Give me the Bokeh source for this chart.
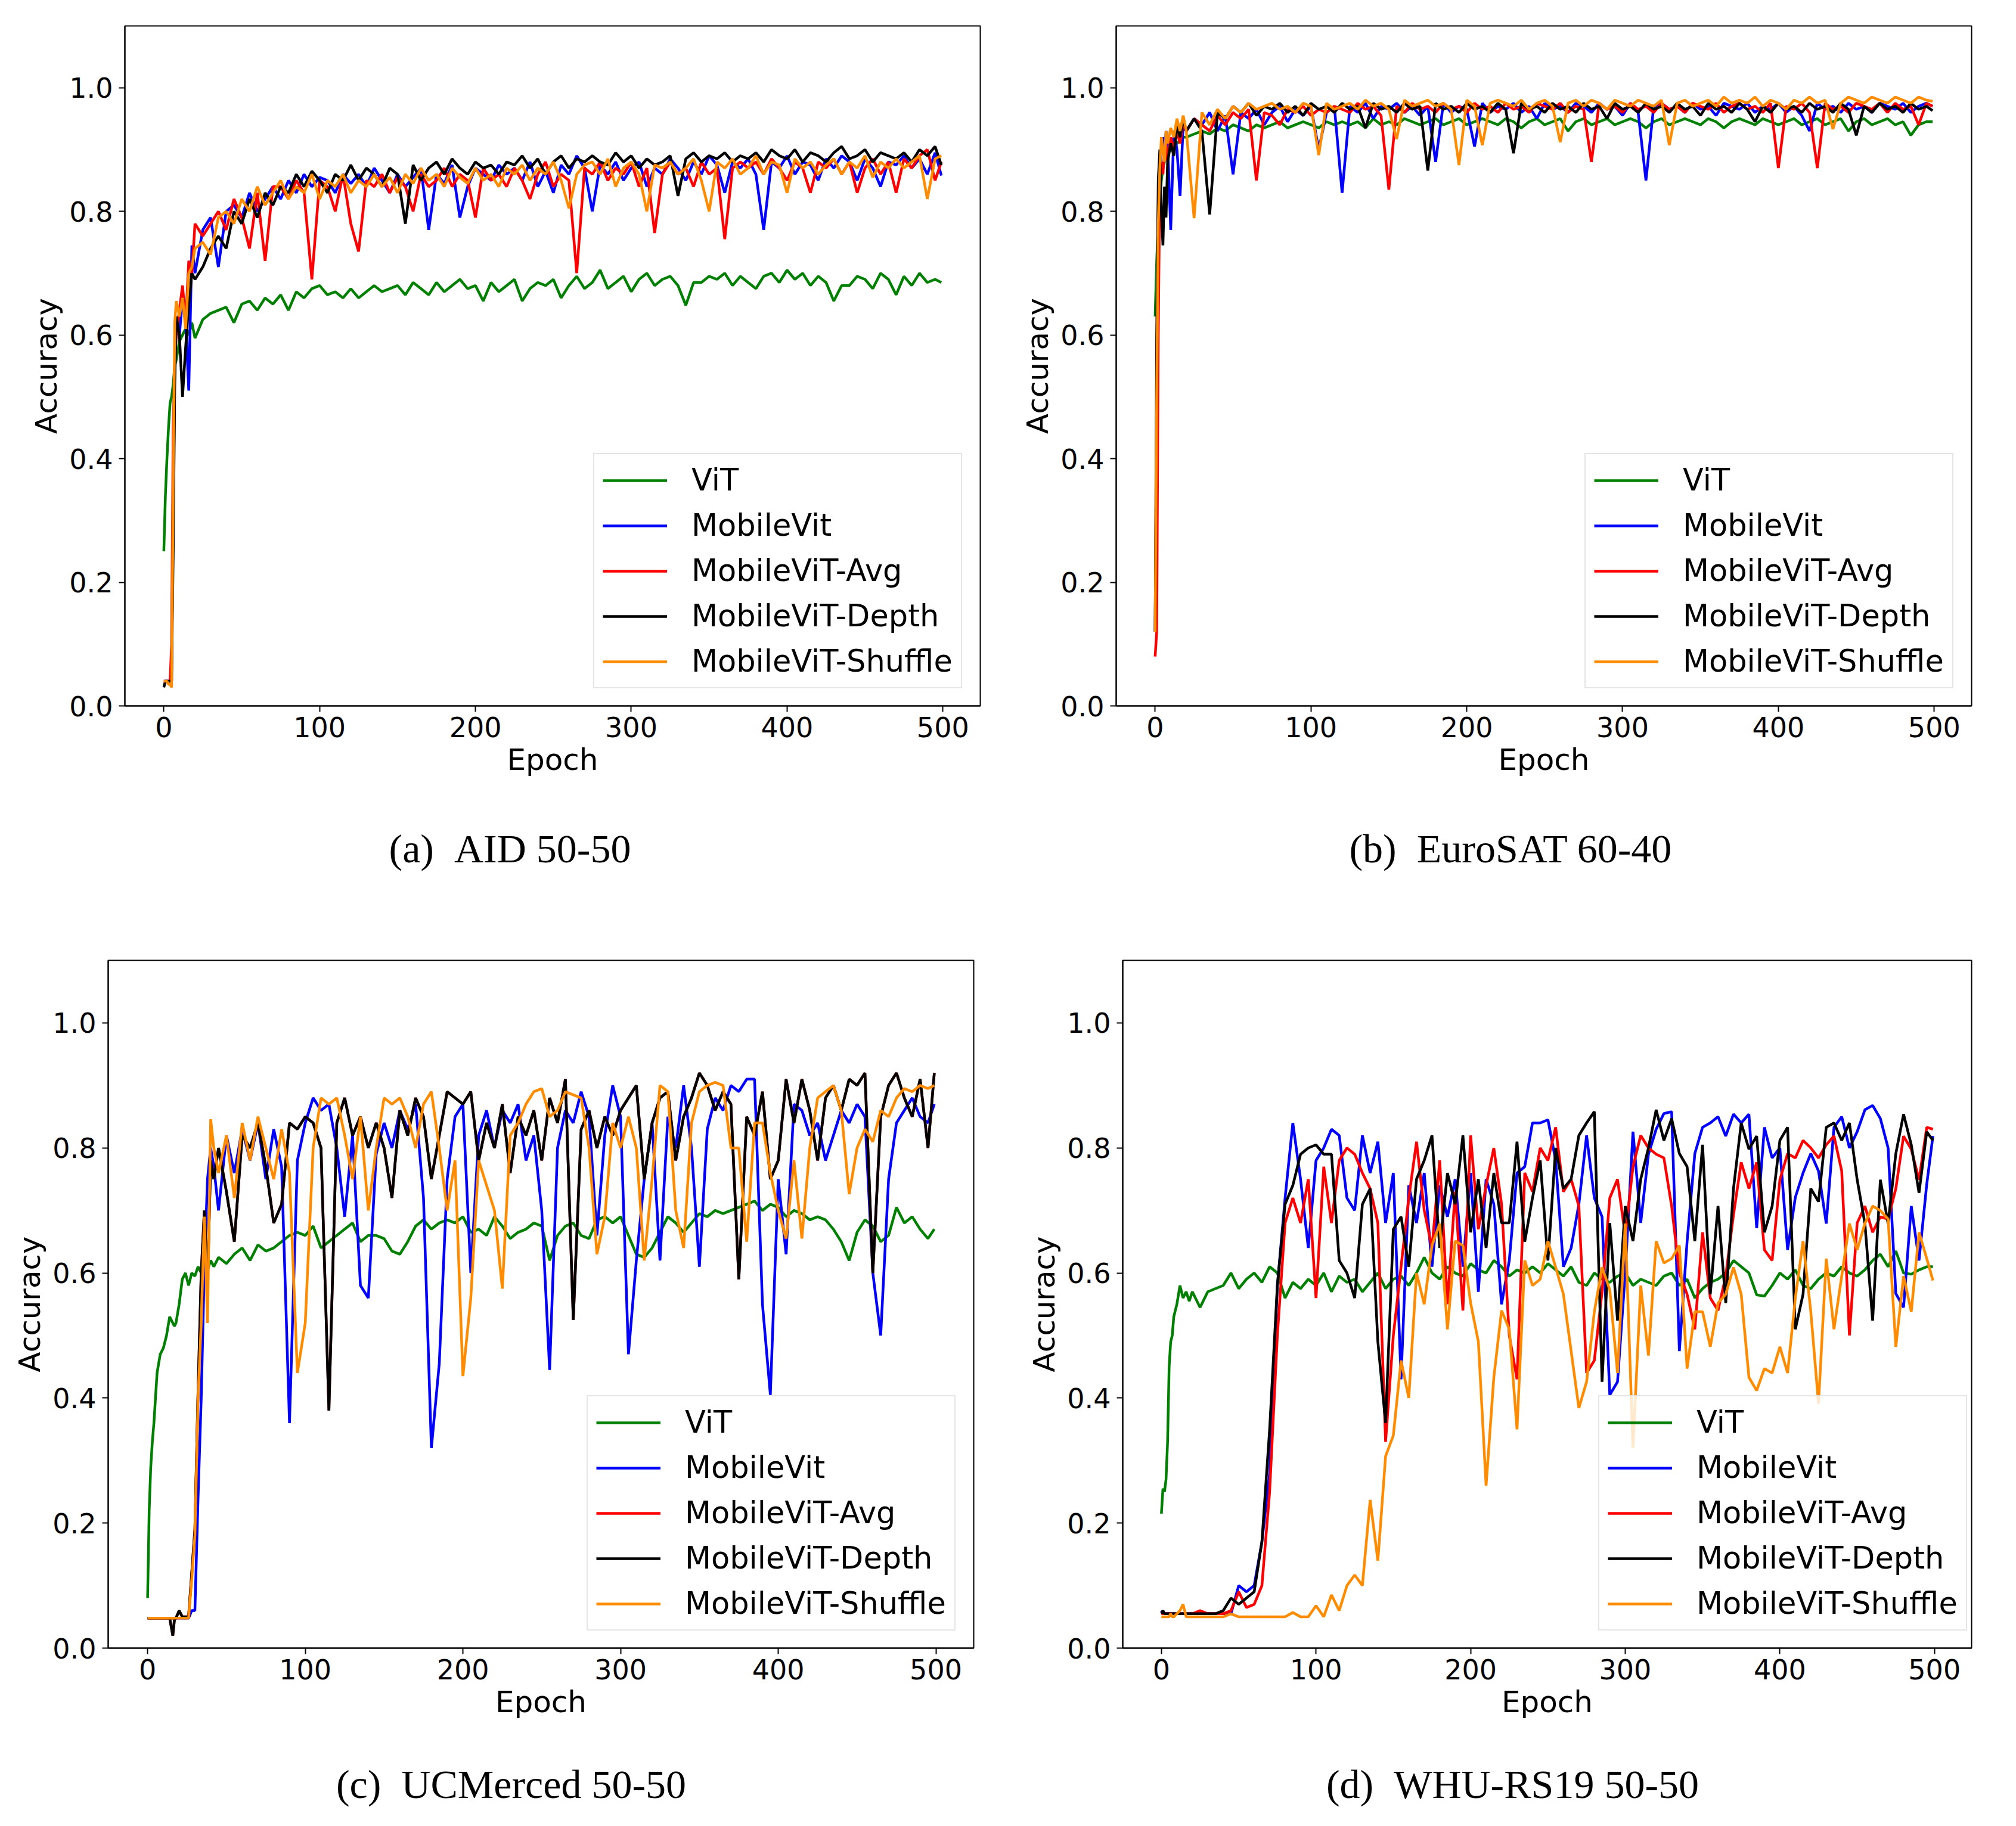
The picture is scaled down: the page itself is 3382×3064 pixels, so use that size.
from bokeh.plotting import figure
from bokeh.layouts import column, row
from bokeh.models import Range1d, PrintfTickFormatter, Legend, LegendItem, Label
from bokeh.embed import file_html
from bokeh.resources import INLINE

series_names = ["ViT", "MobileVit", "MobileViT-Avg", "MobileViT-Depth", "MobileViT-Shuffle"]
series_colors = ["#008000", "#0000ff", "#ff0000", "#000000", "#ff8c00"]
x_ticks = [0, 100, 200, 300, 400, 500]
y_ticks = [0.0, 0.2, 0.4, 0.6, 0.8, 1.0]
captions = ["(a)\u00a0\u00a0AID 50-50", "(b)\u00a0\u00a0EuroSAT 60-40",
            "(c)\u00a0\u00a0UCMerced 50-50", "(d)\u00a0\u00a0WHU-RS19 50-50"]

# epochs sampled (panels a, b, d)
epochs_abd = [0, 1, 2, 3, 4, 5, 6, 7, 8, 10, 12, 14, 16, 18, 20] + list(range(25, 500, 5)) + [499]
# epochs sampled (panel c)
epochs_c = [0, 1, 2, 3, 4, 6, 8, 10, 12, 14, 16, 17, 18, 20, 22, 24, 26, 28, 30, 32, 34, 36, 38, 40, 42] \
    + list(range(45, 500, 5)) + [499]

# ---------------- (a) AID 50-50 ----------------
vit_a = [0.25, 0.34, 0.40, 0.45, 0.49, 0.50, 0.52, 0.55, 0.56, 0.59, 0.60, 0.61, 0.60, 0.62, 0.595,
         0.625, 0.635, 0.64, 0.645, 0.62, 0.65, 0.655, 0.64, 0.66, 0.65,
         0.665, 0.64, 0.67, 0.66, 0.675, 0.68, 0.665, 0.67, 0.66, 0.675,
         0.66, 0.67, 0.68, 0.67, 0.675, 0.68, 0.665, 0.685, 0.675, 0.665,
         0.685, 0.67, 0.68, 0.69, 0.675, 0.68, 0.655, 0.685, 0.67, 0.68,
         0.69, 0.655, 0.675, 0.685, 0.68, 0.69, 0.66, 0.68, 0.695, 0.675,
         0.685, 0.705, 0.675, 0.685, 0.695, 0.67, 0.69, 0.70, 0.68, 0.69,
         0.695, 0.68, 0.648, 0.685, 0.685, 0.695, 0.69, 0.70, 0.68, 0.695,
         0.685, 0.675, 0.695, 0.70, 0.685, 0.705, 0.69, 0.70, 0.68, 0.695,
         0.685, 0.655, 0.68, 0.68, 0.695, 0.69, 0.675, 0.70, 0.69, 0.665,
         0.695, 0.68, 0.70, 0.685, 0.69, 0.685]
mvit_a = [0.04, 0.04, 0.04, 0.04, 0.04, 0.06, 0.30, 0.55, 0.62, 0.60, 0.66, 0.62, 0.51, 0.745, 0.70,
          0.77, 0.79, 0.71, 0.80, 0.81, 0.79, 0.83, 0.80, 0.82, 0.84,
          0.82, 0.85, 0.83, 0.86, 0.84, 0.855, 0.85, 0.83, 0.86, 0.845,
          0.86, 0.84, 0.87, 0.85, 0.83, 0.86, 0.84, 0.855, 0.87, 0.77,
          0.86, 0.845, 0.875, 0.79, 0.84, 0.87, 0.86, 0.85, 0.875, 0.86,
          0.87, 0.85, 0.88, 0.84, 0.865, 0.83, 0.875, 0.86, 0.89, 0.87,
          0.80, 0.875, 0.86, 0.88, 0.85, 0.87, 0.88, 0.84, 0.87, 0.86,
          0.885, 0.87, 0.85, 0.88, 0.86, 0.89, 0.875, 0.83, 0.88, 0.87,
          0.885, 0.86, 0.77, 0.88, 0.87, 0.89, 0.86, 0.88, 0.875, 0.85,
          0.885, 0.87, 0.89, 0.88, 0.85, 0.885, 0.87, 0.84, 0.88, 0.875,
          0.89, 0.87, 0.885, 0.86, 0.895, 0.858]
avg_a = [0.04, 0.04, 0.04, 0.04, 0.04, 0.10, 0.45, 0.55, 0.60, 0.64, 0.68, 0.62, 0.72, 0.70, 0.78,
         0.76, 0.78, 0.80, 0.77, 0.82, 0.79, 0.74, 0.83, 0.72, 0.84,
         0.84, 0.82, 0.85, 0.83, 0.69, 0.85, 0.84, 0.80, 0.86, 0.78,
         0.735, 0.85, 0.84, 0.86, 0.83, 0.855, 0.84, 0.80, 0.86, 0.84,
         0.85, 0.87, 0.84, 0.86, 0.85, 0.79, 0.87, 0.85, 0.86, 0.84,
         0.87, 0.85, 0.82, 0.86, 0.88, 0.84, 0.86, 0.85, 0.70, 0.87,
         0.86, 0.88, 0.85, 0.87, 0.86, 0.88, 0.84, 0.87, 0.765, 0.86,
         0.88, 0.86, 0.87, 0.84, 0.88, 0.86, 0.87, 0.755, 0.87, 0.88,
         0.87, 0.88, 0.86, 0.885, 0.87, 0.85, 0.88, 0.87, 0.83, 0.88,
         0.87, 0.885, 0.86, 0.88, 0.83, 0.87, 0.885, 0.86, 0.88, 0.83,
         0.885, 0.87, 0.89, 0.90, 0.85, 0.88]
depth_a = [0.03, 0.04, 0.04, 0.04, 0.04, 0.04, 0.25, 0.52, 0.63, 0.60, 0.50, 0.58, 0.65, 0.70, 0.69,
           0.71, 0.74, 0.76, 0.74, 0.80, 0.78, 0.82, 0.79, 0.83, 0.81,
           0.84, 0.83, 0.86, 0.84, 0.865, 0.85, 0.83, 0.86, 0.85, 0.875,
           0.85, 0.87, 0.86, 0.84, 0.87, 0.86, 0.78, 0.875, 0.85, 0.87,
           0.88, 0.86, 0.885, 0.87, 0.86, 0.88, 0.87, 0.875, 0.86, 0.88,
           0.875, 0.89, 0.87, 0.885, 0.86, 0.88, 0.89, 0.87, 0.885, 0.88,
           0.89, 0.88, 0.875, 0.895, 0.88, 0.89, 0.87, 0.885, 0.875, 0.88,
           0.89, 0.825, 0.885, 0.895, 0.88, 0.89, 0.885, 0.895, 0.88, 0.89,
           0.885, 0.895, 0.88, 0.90, 0.89, 0.885, 0.90, 0.88, 0.895, 0.89,
           0.88, 0.895, 0.905, 0.885, 0.89, 0.90, 0.88, 0.895, 0.89, 0.885,
           0.895, 0.88, 0.90, 0.89, 0.905, 0.875]
shuffle_a = [0.04, 0.04, 0.04, 0.035, 0.035, 0.03, 0.35, 0.62, 0.655, 0.63, 0.66, 0.61, 0.70, 0.71, 0.74,
             0.75, 0.73, 0.79, 0.80, 0.78, 0.82, 0.80, 0.84, 0.81, 0.83,
             0.85, 0.82, 0.84, 0.83, 0.86, 0.82, 0.85, 0.84, 0.86, 0.83,
             0.85, 0.84, 0.86, 0.84, 0.855, 0.83, 0.86, 0.845, 0.87, 0.85,
             0.86, 0.84, 0.87, 0.855, 0.845, 0.87, 0.85, 0.86, 0.84, 0.87,
             0.86, 0.875, 0.85, 0.87, 0.86, 0.88, 0.85, 0.805, 0.86, 0.875,
             0.88, 0.86, 0.885, 0.84, 0.87, 0.88, 0.86, 0.80, 0.875, 0.87,
             0.88, 0.86, 0.87, 0.885, 0.85, 0.80, 0.88, 0.87, 0.885, 0.86,
             0.87, 0.89, 0.86, 0.88, 0.875, 0.83, 0.885, 0.87, 0.88, 0.86,
             0.875, 0.885, 0.86, 0.88, 0.87, 0.89, 0.855, 0.88, 0.87, 0.885,
             0.87, 0.88, 0.89, 0.82, 0.885, 0.89]

# ---------------- (b) EuroSAT 60-40 ----------------
vit_b = [0.63, 0.72, 0.78, 0.82, 0.85, 0.87, 0.88, 0.89, 0.895, 0.90, 0.905, 0.91, 0.915, 0.92, 0.92,
         0.925, 0.93, 0.925, 0.935, 0.93, 0.94, 0.935, 0.93, 0.94, 0.935,
         0.94, 0.945, 0.935, 0.94, 0.945, 0.94, 0.935, 0.945, 0.94, 0.945,
         0.94, 0.945, 0.935, 0.95, 0.94, 0.945, 0.94, 0.95, 0.945, 0.94,
         0.945, 0.95, 0.94, 0.945, 0.95, 0.94, 0.945, 0.95, 0.945, 0.94,
         0.95, 0.945, 0.935, 0.945, 0.95, 0.94, 0.945, 0.95, 0.93, 0.945,
         0.95, 0.94, 0.945, 0.95, 0.94, 0.945, 0.95, 0.945, 0.935, 0.945,
         0.95, 0.94, 0.945, 0.95, 0.945, 0.94, 0.95, 0.945, 0.935, 0.945,
         0.95, 0.945, 0.94, 0.95, 0.945, 0.94, 0.945, 0.95, 0.94, 0.945,
         0.95, 0.94, 0.945, 0.95, 0.93, 0.945, 0.95, 0.94, 0.945, 0.95,
         0.94, 0.945, 0.923, 0.94, 0.945, 0.945]
mvit_b = [0.12, 0.45, 0.80, 0.88, 0.90, 0.92, 0.88, 0.93, 0.91, 0.77, 0.93, 0.90, 0.825, 0.94, 0.93,
          0.95, 0.94, 0.96, 0.93, 0.955, 0.86, 0.96, 0.95, 0.965, 0.94,
          0.96, 0.97, 0.945, 0.965, 0.955, 0.97, 0.90, 0.96, 0.97, 0.83,
          0.97, 0.96, 0.975, 0.95, 0.97, 0.965, 0.975, 0.96, 0.97, 0.955,
          0.97, 0.88, 0.975, 0.96, 0.97, 0.965, 0.905, 0.975, 0.96, 0.97,
          0.965, 0.975, 0.96, 0.97, 0.95, 0.975, 0.965, 0.97, 0.96, 0.975,
          0.97, 0.96, 0.975, 0.965, 0.97, 0.955, 0.975, 0.96, 0.85, 0.97,
          0.975, 0.965, 0.97, 0.96, 0.975, 0.965, 0.97, 0.955, 0.975, 0.97,
          0.965, 0.975, 0.96, 0.97, 0.965, 0.975, 0.96, 0.97, 0.955, 0.93,
          0.975, 0.965, 0.97, 0.96, 0.975, 0.965, 0.97, 0.96, 0.975, 0.97,
          0.965, 0.975, 0.96, 0.97, 0.975, 0.97]
avg_b = [0.08, 0.12, 0.60, 0.85, 0.88, 0.86, 0.90, 0.91, 0.88, 0.92, 0.90, 0.93, 0.91, 0.945, 0.93,
         0.95, 0.94, 0.93, 0.955, 0.94, 0.96, 0.95, 0.965, 0.85, 0.96,
         0.955, 0.94, 0.965, 0.96, 0.97, 0.955, 0.965, 0.96, 0.97, 0.965,
         0.96, 0.975, 0.965, 0.97, 0.955, 0.835, 0.97, 0.96, 0.975, 0.965,
         0.97, 0.96, 0.975, 0.965, 0.97, 0.96, 0.975, 0.965, 0.97, 0.96,
         0.975, 0.965, 0.97, 0.96, 0.975, 0.97, 0.965, 0.975, 0.96, 0.97,
         0.965, 0.88, 0.975, 0.965, 0.97, 0.96, 0.975, 0.965, 0.97, 0.96,
         0.975, 0.965, 0.97, 0.96, 0.975, 0.97, 0.965, 0.975, 0.96, 0.97,
         0.975, 0.965, 0.97, 0.96, 0.975, 0.87, 0.97, 0.965, 0.975, 0.96,
         0.87, 0.975, 0.965, 0.97, 0.96, 0.975, 0.97, 0.965, 0.975, 0.96,
         0.975, 0.965, 0.97, 0.94, 0.975, 0.97]
depth_b = [0.12, 0.60, 0.85, 0.90, 0.80, 0.745, 0.84, 0.79, 0.88, 0.91, 0.89, 0.94, 0.92, 0.95, 0.93,
           0.95, 0.93, 0.795, 0.96, 0.95, 0.97, 0.96, 0.975, 0.955, 0.97,
           0.965, 0.975, 0.96, 0.97, 0.955, 0.975, 0.965, 0.97, 0.96, 0.975,
           0.965, 0.97, 0.935, 0.975, 0.965, 0.97, 0.96, 0.975, 0.965, 0.97,
           0.866, 0.975, 0.965, 0.97, 0.96, 0.975, 0.965, 0.97, 0.96, 0.975,
           0.965, 0.894, 0.975, 0.965, 0.97, 0.96, 0.975, 0.965, 0.97, 0.96,
           0.975, 0.965, 0.97, 0.95, 0.975, 0.965, 0.97, 0.96, 0.975, 0.965,
           0.97, 0.96, 0.975, 0.965, 0.97, 0.955, 0.975, 0.965, 0.97, 0.96,
           0.975, 0.965, 0.945, 0.97, 0.96, 0.975, 0.965, 0.97, 0.96, 0.975,
           0.965, 0.97, 0.96, 0.975, 0.965, 0.923, 0.97, 0.96, 0.975, 0.965,
           0.97, 0.96, 0.975, 0.965, 0.97, 0.963]
shuffle_b = [0.12, 0.50, 0.78, 0.87, 0.92, 0.90, 0.88, 0.93, 0.91, 0.935, 0.92, 0.95, 0.93, 0.955, 0.93,
             0.789, 0.96, 0.94, 0.965, 0.95, 0.97, 0.96, 0.975, 0.965, 0.97,
             0.975, 0.965, 0.97, 0.96, 0.975, 0.97, 0.891, 0.975, 0.965, 0.97,
             0.975, 0.965, 0.98, 0.97, 0.975, 0.965, 0.917, 0.98, 0.97, 0.975,
             0.98, 0.97, 0.975, 0.965, 0.875, 0.98, 0.97, 0.907, 0.975, 0.98,
             0.975, 0.97, 0.98, 0.965, 0.975, 0.98, 0.97, 0.912, 0.975, 0.98,
             0.97, 0.98, 0.975, 0.965, 0.98, 0.975, 0.97, 0.98, 0.975, 0.97,
             0.98, 0.907, 0.975, 0.98, 0.97, 0.975, 0.98, 0.97, 0.985, 0.975,
             0.98, 0.975, 0.985, 0.97, 0.98, 0.975, 0.965, 0.98, 0.975, 0.985,
             0.975, 0.98, 0.933, 0.975, 0.985, 0.98, 0.975, 0.985, 0.98, 0.975,
             0.985, 0.98, 0.975, 0.985, 0.98, 0.978]

# ---------------- (c) UCMerced 50-50 ----------------
vit_c = [0.08, 0.22, 0.29, 0.33, 0.36, 0.44, 0.47, 0.48, 0.50, 0.53, 0.52, 0.515, 0.52, 0.55, 0.59,
         0.60, 0.58, 0.60, 0.595, 0.61, 0.60, 0.62, 0.605, 0.62, 0.61,
         0.625, 0.615, 0.63, 0.64, 0.62, 0.645, 0.635, 0.64, 0.65, 0.66,
         0.665, 0.66, 0.675, 0.64, 0.65, 0.66, 0.67, 0.68, 0.65, 0.66,
         0.66, 0.655, 0.635, 0.63, 0.65, 0.675, 0.685, 0.67, 0.68, 0.685,
         0.68, 0.69, 0.665, 0.67, 0.66, 0.69, 0.675, 0.655, 0.665, 0.67,
         0.68, 0.675, 0.62, 0.66, 0.675, 0.68, 0.66, 0.655, 0.685, 0.69,
         0.68, 0.69, 0.66, 0.63, 0.625, 0.64, 0.665, 0.69, 0.68, 0.665,
         0.68, 0.695, 0.69, 0.70, 0.695, 0.70, 0.705, 0.71, 0.715, 0.70,
         0.71, 0.705, 0.69, 0.70, 0.695, 0.685, 0.69, 0.685, 0.67, 0.65,
         0.62, 0.665, 0.685, 0.675, 0.65, 0.66, 0.705, 0.68, 0.69, 0.67,
         0.655, 0.67]
mvit_c = [0.048, 0.048, 0.048, 0.048, 0.048, 0.048, 0.048, 0.048, 0.048, 0.048, 0.048, 0.048, 0.048,
          0.048, 0.048, 0.048, 0.048, 0.06, 0.06, 0.24, 0.40, 0.61, 0.75, 0.80, 0.77,
          0.70, 0.82, 0.76, 0.83, 0.78, 0.84, 0.75, 0.83, 0.77, 0.36,
          0.78, 0.84, 0.88, 0.86, 0.87, 0.80, 0.69, 0.82, 0.58, 0.56,
          0.79, 0.84, 0.80, 0.86, 0.83, 0.87, 0.72, 0.32, 0.455, 0.75,
          0.85, 0.87, 0.60, 0.82, 0.86, 0.80, 0.86, 0.84, 0.87, 0.78,
          0.82, 0.70, 0.445, 0.80, 0.86, 0.84, 0.89, 0.85, 0.66, 0.82,
          0.90, 0.85, 0.47, 0.62, 0.75, 0.84, 0.62, 0.85, 0.80, 0.90,
          0.80, 0.61, 0.83, 0.88, 0.86, 0.90, 0.89, 0.91, 0.91, 0.55,
          0.405, 0.75, 0.63, 0.87, 0.86, 0.82, 0.84, 0.78, 0.82, 0.86,
          0.84, 0.87, 0.85, 0.60, 0.50, 0.75, 0.84, 0.86, 0.88, 0.85,
          0.84, 0.87]
depth_c = [0.048, 0.048, 0.048, 0.048, 0.048, 0.048, 0.048, 0.048, 0.048, 0.048, 0.02, 0.045, 0.048,
           0.06, 0.05, 0.05, 0.05, 0.12, 0.19, 0.41, 0.60, 0.70, 0.58, 0.78, 0.75,
           0.80, 0.73, 0.65, 0.82, 0.80, 0.84, 0.77, 0.68, 0.71, 0.84,
           0.83, 0.85, 0.84, 0.80, 0.38, 0.84, 0.88, 0.82, 0.85, 0.80,
           0.84, 0.80, 0.72, 0.86, 0.82, 0.88, 0.85, 0.75, 0.82, 0.89,
           0.88, 0.87, 0.89, 0.78, 0.84, 0.80, 0.87, 0.76, 0.85, 0.82,
           0.86, 0.78, 0.88, 0.84, 0.91, 0.525, 0.83, 0.86, 0.80, 0.85,
           0.82, 0.86, 0.88, 0.90, 0.75, 0.84, 0.88, 0.89, 0.78, 0.85,
           0.88, 0.92, 0.90, 0.86, 0.89, 0.87, 0.59, 0.85, 0.82, 0.89,
           0.75, 0.78, 0.91, 0.84, 0.91, 0.86, 0.78, 0.88, 0.90, 0.86,
           0.91, 0.90, 0.92, 0.60, 0.85, 0.90, 0.92, 0.88, 0.85, 0.91,
           0.80, 0.92]
# MobileViT-Avg lies exactly under MobileViT-Depth in this panel
avg_c = [0.048, 0.048, 0.048, 0.048, 0.048, 0.048, 0.048, 0.048, 0.048, 0.048, 0.02, 0.045, 0.048,
         0.06, 0.05, 0.05, 0.05, 0.12, 0.19, 0.41, 0.60, 0.70, 0.58, 0.78, 0.75,
         0.80, 0.73, 0.65, 0.82, 0.80, 0.84, 0.77, 0.68, 0.71, 0.84,
         0.83, 0.85, 0.84, 0.80, 0.38, 0.84, 0.88, 0.82, 0.85, 0.80,
         0.84, 0.80, 0.72, 0.86, 0.82, 0.88, 0.85, 0.75, 0.82, 0.89,
         0.88, 0.87, 0.89, 0.78, 0.84, 0.80, 0.87, 0.76, 0.85, 0.82,
         0.86, 0.78, 0.88, 0.84, 0.91, 0.525, 0.83, 0.86, 0.80, 0.85,
         0.82, 0.86, 0.88, 0.90, 0.75, 0.84, 0.88, 0.89, 0.78, 0.85,
         0.88, 0.92, 0.90, 0.86, 0.89, 0.87, 0.59, 0.85, 0.82, 0.89,
         0.75, 0.78, 0.91, 0.84, 0.91, 0.86, 0.78, 0.88, 0.90, 0.86,
         0.91, 0.90, 0.92, 0.60, 0.85, 0.90, 0.92, 0.88, 0.85, 0.91,
         0.80, 0.92]
shuffle_c = [0.048, 0.048, 0.048, 0.048, 0.048, 0.048, 0.048, 0.048, 0.048, 0.048, 0.048, 0.048, 0.048,
             0.048, 0.048, 0.048, 0.048, 0.11, 0.18, 0.40, 0.52, 0.69, 0.52, 0.846, 0.80,
             0.76, 0.82, 0.72, 0.84, 0.78, 0.85, 0.80, 0.75, 0.83, 0.76,
             0.44, 0.52, 0.80, 0.88, 0.87, 0.88, 0.82, 0.75, 0.85, 0.70,
             0.80, 0.88, 0.87, 0.88, 0.85, 0.80, 0.87, 0.89, 0.80, 0.70,
             0.78, 0.435, 0.56, 0.78, 0.74, 0.70, 0.575, 0.82, 0.84, 0.87,
             0.89, 0.895, 0.85, 0.86, 0.89, 0.885, 0.88, 0.80, 0.63, 0.69,
             0.84, 0.80, 0.85, 0.80, 0.62, 0.75, 0.90, 0.89, 0.70, 0.64,
             0.84, 0.89, 0.90, 0.905, 0.90, 0.80, 0.80, 0.65, 0.84, 0.84,
             0.76, 0.70, 0.655, 0.78, 0.655, 0.80, 0.88, 0.89, 0.90, 0.86,
             0.726, 0.80, 0.83, 0.81, 0.86, 0.85, 0.88, 0.895, 0.89, 0.90,
             0.895, 0.90]

# ---------------- (d) WHU-RS19 50-50 ----------------
vit_d = [0.215, 0.255, 0.25, 0.27, 0.33, 0.45, 0.49, 0.50, 0.53, 0.55, 0.58, 0.56, 0.57, 0.555, 0.57,
         0.545, 0.57, 0.575, 0.58, 0.60, 0.575, 0.59, 0.60, 0.585, 0.61,
         0.60, 0.56, 0.585, 0.575, 0.59, 0.58, 0.60, 0.57, 0.595, 0.585,
         0.59, 0.57, 0.585, 0.60, 0.575, 0.59, 0.595, 0.58, 0.60, 0.625,
         0.60, 0.59, 0.61, 0.60, 0.595, 0.615, 0.605, 0.60, 0.62, 0.61,
         0.595, 0.605, 0.60, 0.61, 0.60, 0.615, 0.605, 0.595, 0.61, 0.585,
         0.58, 0.60, 0.59, 0.585, 0.595, 0.60, 0.58, 0.59, 0.585, 0.58,
         0.595, 0.60, 0.58, 0.59, 0.56, 0.575, 0.585, 0.59, 0.60, 0.62,
         0.61, 0.60, 0.565, 0.563, 0.58, 0.60, 0.59, 0.605, 0.58, 0.575,
         0.59, 0.60, 0.595, 0.61, 0.60, 0.595, 0.605, 0.62, 0.63, 0.61,
         0.635, 0.60, 0.598, 0.605, 0.61, 0.61]
mvit_d = [0.06, 0.055, 0.055, 0.055, 0.055, 0.055, 0.055, 0.055, 0.055, 0.055, 0.055, 0.055, 0.055, 0.055, 0.055,
          0.055, 0.055, 0.055, 0.055, 0.055, 0.10, 0.09, 0.10, 0.17, 0.28,
          0.58, 0.72, 0.84, 0.75, 0.64, 0.78, 0.80, 0.83, 0.82, 0.72,
          0.70, 0.82, 0.76, 0.81, 0.68, 0.76, 0.43, 0.74, 0.68, 0.76,
          0.61, 0.74, 0.69, 0.75, 0.61, 0.76, 0.57, 0.75, 0.71, 0.55,
          0.62, 0.76, 0.77, 0.84, 0.84, 0.845, 0.78, 0.61, 0.64, 0.71,
          0.82, 0.72, 0.69, 0.405, 0.426, 0.60, 0.826, 0.68, 0.79, 0.83,
          0.855, 0.858, 0.475, 0.65, 0.791, 0.833, 0.84, 0.85, 0.819, 0.854,
          0.84, 0.854, 0.672, 0.833, 0.784, 0.80, 0.637, 0.721, 0.76, 0.791,
          0.763, 0.679, 0.833, 0.85, 0.80, 0.826, 0.861, 0.868, 0.847, 0.80,
          0.567, 0.545, 0.707, 0.62, 0.742, 0.819]
avg_d = [0.055, 0.055, 0.055, 0.055, 0.055, 0.055, 0.055, 0.055, 0.055, 0.055, 0.055, 0.055, 0.055, 0.055, 0.055,
         0.06, 0.055, 0.055, 0.055, 0.06, 0.09, 0.065, 0.07, 0.10, 0.25,
         0.50, 0.68, 0.72, 0.68, 0.75, 0.56, 0.77, 0.68, 0.78, 0.80,
         0.79, 0.76, 0.735, 0.68, 0.33, 0.50, 0.61, 0.72, 0.81, 0.70,
         0.64, 0.78, 0.55, 0.73, 0.54, 0.82, 0.67, 0.74, 0.80, 0.71,
         0.50, 0.43, 0.76, 0.73, 0.80, 0.78, 0.833, 0.73, 0.75, 0.707,
         0.44, 0.46, 0.57, 0.72, 0.75, 0.66, 0.77, 0.82, 0.80, 0.79,
         0.784, 0.707, 0.60, 0.566, 0.51, 0.665, 0.56, 0.54, 0.595, 0.693,
         0.777, 0.735, 0.777, 0.637, 0.62, 0.749, 0.791, 0.784, 0.812, 0.80,
         0.784, 0.805, 0.819, 0.763, 0.50, 0.68, 0.707, 0.665, 0.69, 0.686,
         0.735, 0.819, 0.798, 0.749, 0.833, 0.83]
depth_d = [0.055, 0.06, 0.055, 0.055, 0.055, 0.055, 0.055, 0.055, 0.055, 0.055, 0.055, 0.055, 0.055, 0.055, 0.055,
           0.055, 0.055, 0.055, 0.06, 0.08, 0.07, 0.08, 0.09, 0.17, 0.35,
           0.58, 0.71, 0.74, 0.79, 0.80, 0.805, 0.79, 0.79, 0.62, 0.60,
           0.56, 0.71, 0.735, 0.49, 0.36, 0.67, 0.69, 0.61, 0.75, 0.78,
           0.82, 0.64, 0.76, 0.71, 0.82, 0.665, 0.75, 0.64, 0.76, 0.68,
           0.68, 0.81, 0.65, 0.72, 0.78, 0.62, 0.80, 0.735, 0.75, 0.82,
           0.84, 0.858, 0.426, 0.68, 0.524, 0.707, 0.651, 0.75, 0.80, 0.861,
           0.812, 0.847, 0.791, 0.77, 0.651, 0.805, 0.566, 0.707, 0.552, 0.735,
           0.84, 0.798, 0.819, 0.665, 0.707, 0.812, 0.833, 0.51, 0.566, 0.735,
           0.714, 0.833, 0.84, 0.812, 0.84, 0.749, 0.679, 0.524, 0.749, 0.679,
           0.791, 0.854, 0.805, 0.728, 0.826, 0.812]
shuffle_d = [0.05, 0.05, 0.05, 0.05, 0.05, 0.05, 0.055, 0.05, 0.05, 0.055, 0.06, 0.07, 0.05, 0.05, 0.05,
             0.05, 0.05, 0.05, 0.05, 0.055, 0.05, 0.05, 0.05, 0.05, 0.05,
             0.05, 0.05, 0.057, 0.05, 0.05, 0.068, 0.05, 0.085, 0.06, 0.10,
             0.117, 0.10, 0.237, 0.14, 0.307, 0.34, 0.46, 0.40, 0.60, 0.55,
             0.644, 0.679, 0.51, 0.651, 0.644, 0.552, 0.49, 0.26, 0.433, 0.54,
             0.51, 0.35, 0.62, 0.58, 0.59, 0.651, 0.609, 0.566, 0.475, 0.384,
             0.426, 0.538, 0.609, 0.573, 0.44, 0.679, 0.32, 0.58, 0.468, 0.651,
             0.616, 0.623, 0.644, 0.447, 0.538, 0.538, 0.482, 0.552, 0.566, 0.609,
             0.566, 0.433, 0.412, 0.447, 0.44, 0.482, 0.44, 0.56, 0.651, 0.538,
             0.391, 0.623, 0.51, 0.595, 0.679, 0.637, 0.679, 0.707, 0.70, 0.686,
             0.482, 0.595, 0.538, 0.665, 0.623, 0.588]


def make_panel(epochs, series, width, height, left, right, top, bottom, legend_xy, lw):
    for s in series:
        assert len(s) == len(epochs), (len(s), len(epochs))
    p = figure(width=width, height=height, output_backend="svg", toolbar_location=None,
               x_range=Range1d(-25, 524), y_range=Range1d(0, 1.1))
    p.min_border_left = left
    p.min_border_right = right
    p.min_border_top = top
    p.min_border_bottom = bottom
    p.background_fill_color = "white"
    p.border_fill_color = "white"
    p.outline_line_color = "black"
    p.outline_line_width = 2
    p.xgrid.visible = False
    p.ygrid.visible = False
    for ax in (p.xaxis[0], p.yaxis[0]):
        ax.axis_line_color = "black"
        ax.axis_line_width = 2
        ax.major_tick_line_color = "black"
        ax.major_tick_line_width = 2
        ax.major_tick_out = 10
        ax.major_tick_in = 0
        ax.minor_tick_line_color = None
        ax.major_label_text_font = "DejaVu Sans"
        ax.major_label_text_font_size = "46px"
        ax.major_label_text_color = "black"
        ax.axis_label_text_font = "DejaVu Sans"
        ax.axis_label_text_font_size = "50px"
        ax.axis_label_text_font_style = "normal"
        ax.axis_label_text_color = "black"
    p.xaxis.ticker = x_ticks
    p.yaxis.ticker = y_ticks
    p.yaxis.formatter = PrintfTickFormatter(format="%.1f")
    p.xaxis.axis_label = "Epoch"
    p.yaxis.axis_label = "Accuracy"
    p.xaxis.major_label_standoff = 8
    p.yaxis.major_label_standoff = 10
    p.xaxis.axis_label_standoff = 6
    p.yaxis.axis_label_standoff = 6

    items = []
    for name, color, vals in zip(series_names, series_colors, series):
        r = p.line(epochs, vals, line_color=color, line_width=lw)
        items.append(LegendItem(label=name, renderers=[r]))
    legend = Legend(items=items, location=legend_xy)
    legend.margin = 0
    legend.label_text_font = "DejaVu Sans"
    legend.label_text_font_size = "51px"
    legend.label_text_color = "black"
    legend.glyph_width = 108
    legend.glyph_height = 40
    legend.label_height = 40
    legend.label_standoff = 41
    legend.spacing = 17
    legend.padding = 14
    legend.border_line_color = "#cccccc"
    legend.border_line_width = 2
    legend.background_fill_color = "white"
    legend.background_fill_alpha = 0.8
    p.add_layout(legend)
    return p


def make_caption(text, width, height, cx, cy):
    c = figure(width=width, height=height, output_backend="svg", toolbar_location=None,
               x_range=Range1d(0, 1), y_range=Range1d(0, 1),
               x_axis_location=None, y_axis_location=None)
    c.min_border = 0
    c.outline_line_color = None
    c.xgrid.visible = False
    c.ygrid.visible = False
    c.background_fill_color = "white"
    c.border_fill_color = "white"
    c.add_layout(Label(x=cx, y=cy, x_units="screen", y_units="screen", text=text,
                       text_font="Liberation Serif", text_font_size="68px",
                       text_align="center", text_baseline="middle", text_color="black"))
    return c


pa = make_panel(epochs_abd, [vit_a, mvit_a, avg_a, depth_a, shuffle_a],
                1658, 1344, 209, 14, 43, 160, (786, 29), 4.5)
pb = make_panel(epochs_abd, [vit_b, mvit_b, avg_b, depth_b, shuffle_b],
                1709, 1344, 214, 60, 43, 160, (786, 29), 4.5)
pc = make_panel(epochs_c, [vit_c, mvit_c, avg_c, depth_c, shuffle_c],
                1658, 1357, 181, 25, 43, 160, (803, 29), 4.5)
pd = make_panel(epochs_abd, [vit_d, mvit_d, avg_d, depth_d, shuffle_d],
                1709, 1357, 225, 60, 43, 155, (798, 29), 4.5)

ca = make_caption(captions[0], 1658, 224, 855, 145)
cb = make_caption(captions[1], 1709, 224, 876, 145)
cc = make_caption(captions[2], 1658, 130, 857, 62)
cd = make_caption(captions[3], 1709, 130, 879, 62)

layout = column(row(pa, pb), row(ca, cb), row(pc, pd), row(cc, cd))
open("out.html", "w").write(file_html(layout, INLINE, title="Accuracy curves"))
